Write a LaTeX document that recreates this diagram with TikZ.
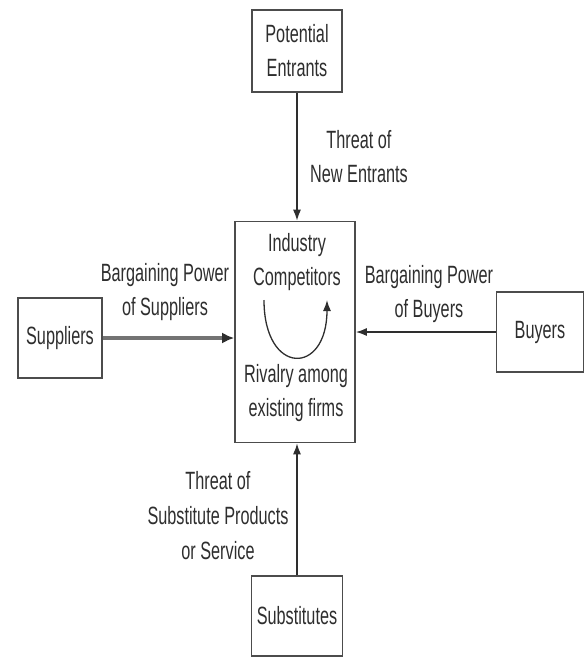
\documentclass[tikz,border=0pt]{standalone}
\usepackage{fontspec}
\setmainfont[FakeStretch=0.65]{Liberation Sans}
\usepackage{tikz}
\usetikzlibrary{
  arrows.meta
}
\colorlet{ink}{black!82}
\colorlet{frame}{black!70}
\colorlet{heavyArrow}{black!55}

\begin{document}
\begin{tikzpicture}[
  x=1pt,
  y=-1pt,
  every node/.style={
    text=ink,
    font=\fontsize{25}{34}\selectfont,
    align=center,
  },
  force box/.style={
    draw=frame,
    line width=1.6pt,
    inner sep=0pt,
  },
  force label/.style={
    inner sep=0pt,
  },
  force arrow/.style={
    draw=ink,
    line width=1.5pt,
    -{Latex[length=11pt,width=8pt]},
  },
]
\useasboundingbox (0,0) rectangle (584,657);
% the five forces
\node[force box,minimum width=90,minimum height=82] (entrants) at (297,51) {Potential\\Entrants};
\node[force box,minimum width=120,minimum height=221] (firms) at (295,332) {};
\node[force box,minimum width=84,minimum height=80] (suppliers) at (60,338) {Suppliers};
\node[force box,minimum width=87,minimum height=80] (buyers) at (540,332) {Buyers};
\node[force box,minimum width=91,minimum height=80] (substitutes) at (297,616) {Substitutes};
% inside the middle box
\node[force label] (industry) at (297,262) {Industry\\Competitors};
\node[force label] (rivalry) at (296,393) {Rivalry among\\existing firms};
\coordinate (arcL) at (264,300);
\coordinate (arcR) at (327,300);
\draw[force arrow,line width=1.3pt] (arcL) .. controls (264,376) and (327,376) .. (arcR);
% arrows
\draw[force arrow] (entrants.south) -- (entrants.south |- firms.north);
\draw[force arrow,draw=heavyArrow,line width=3.5pt,-{Latex[length=12pt,width=11pt,color=ink]}] (suppliers.east) -- (suppliers.east -| firms.west);
\draw[force arrow] (buyers.west) -- (buyers.west -| firms.east);
\draw[force arrow] (substitutes.north) -- (substitutes.north |- firms.south);
% labels
\node[force label] (newThreat) at (359,157) {Threat of\\New Entrants};
\node[force label] (supplierPower) at (165,292) {Bargaining Power\\of Suppliers};
\node[force label] (buyerPower) at (429,294) {Bargaining Power\\of Buyers};
\node[force label,font=\fontsize{25}{35}\selectfont] (substituteThreat) at (218,516) {Threat of\\Substitute Products\\or Service};
\end{tikzpicture}
\end{document}
